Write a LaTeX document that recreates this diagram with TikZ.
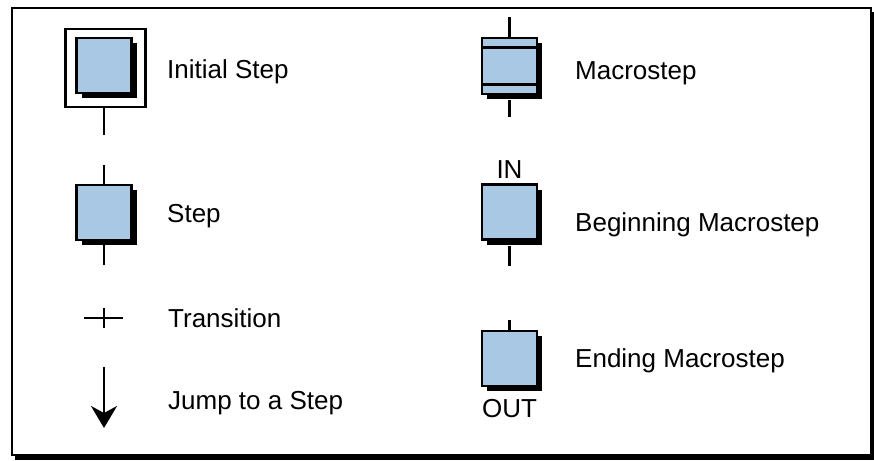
\documentclass[tikz,border=0pt]{standalone}
\usepackage{fontspec}
\setmainfont{Liberation Sans}
\usetikzlibrary{arrows.meta, shadows}
\definecolor{stepblue}{RGB}{168,200,228}

\begin{document}
\begin{tikzpicture}[x=1pt, y=-1pt,
  stepbox/.style={draw, line width=2.8pt, fill=stepblue, minimum width=55pt,
    minimum height=55pt, inner sep=0pt,
    drop shadow={shadow xshift=5pt, shadow yshift=-5pt, fill=black, opacity=1}},
  stub/.style={line width=2.8pt},
  legendtext/.style={anchor=base west, inner sep=0pt, font=\fontsize{26}{30}\selectfont},
  iotext/.style={anchor=base, inner sep=0pt, font=\fontsize{26}{30}\selectfont}]
  \useasboundingbox (0,0) rectangle (874,460);
  % frame with shadow
  \fill (15,12) rectangle (874,460);
  \filldraw[fill=white, line width=2pt] (12,8) rectangle (871,455);
  % initial step
  \node[stepbox] (init) at (104,65.5) {};
  \node[draw, line width=2.5pt, minimum width=80pt, minimum height=78pt] (initframe) at (105.5,68) {};
  \coordinate (init-out) at (104,135);
  \draw[stub] (init-out |- initframe.south) -- (init-out);
  \node[legendtext] (init-text) at (167,78) {Initial Step};
  % step
  \node[stepbox] (step) at (104,212.5) {};
  \coordinate (step-in) at (104,165);
  \coordinate (step-out) at (104,265);
  \draw[stub] (step-in) -- (step);
  \draw[stub] (step) -- (step-out);
  \node[legendtext] (step-text) at (167,222) {Step};
  % transition
  \coordinate (trans) at (104,318);
  \draw[stub] ([xshift=-20pt]trans) -- ([xshift=19pt]trans);
  \draw[stub] ([yshift=10pt]trans) -- ([yshift=-10pt]trans);
  \node[legendtext] (trans-text) at (168,327) {Transition};
  % jump
  \coordinate (jump-top) at (104,367);
  \coordinate (jump-tip) at (104,428);
  \draw[stub, -{Stealth[length=22pt, width=26pt, inset=7pt]}] (jump-top) -- (jump-tip);
  \node[legendtext] (jump-text) at (168,409) {Jump to a Step};
  % macrostep
  \node[stepbox, minimum height=56pt] (macro) at (509.5,66) {};
  \draw[line width=2.8pt] ([yshift=-11pt]macro.north west) -- ([yshift=-11pt]macro.north east);
  \draw[line width=2.8pt] ([yshift=11pt]macro.south west) -- ([yshift=11pt]macro.south east);
  \coordinate (macro-in) at (509.5,17);
  \coordinate (macro-out) at (509.5,117);
  \draw[stub] (macro-in) -- (macro);
  \draw[stub] ([yshift=-5pt]macro.south) -- (macro-out);
  \node[legendtext] (macro-text) at (575,79) {Macrostep};
  % beginning macrostep
  \node[stepbox] (begin) at (509.5,212) {};
  \node[iotext] (begin-tag) at (509.5,178) {IN};
  \coordinate (begin-out) at (509.5,266);
  \draw[stub] ([yshift=-5pt]begin.south) -- (begin-out);
  \node[legendtext] (begin-text) at (575,231) {Beginning Macrostep};
  % ending macrostep
  \node[stepbox] (end) at (509.5,358.5) {};
  \node[iotext] (end-tag) at (509.5,417) {OUT};
  \coordinate (end-in) at (509.5,320);
  \draw[stub] (end-in) -- (end);
  \node[legendtext] (end-text) at (575,367) {Ending Macrostep};
\end{tikzpicture}
\end{document}
